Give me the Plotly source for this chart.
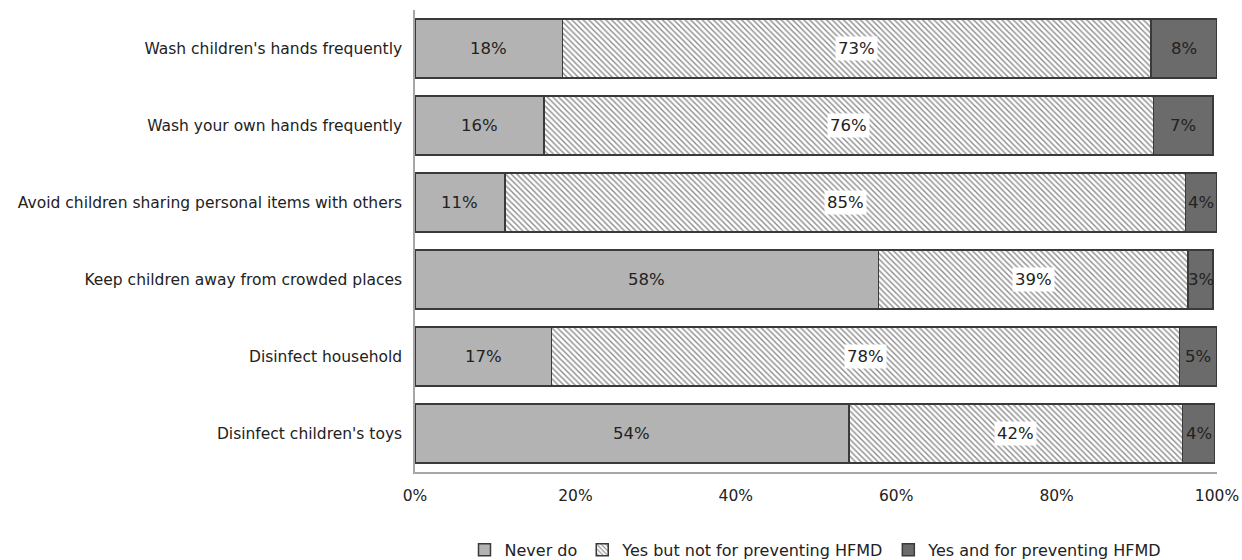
import plotly.graph_objects as go

# Survey items, listed top to bottom
categories = [
    "Wash children's hands frequently",
    "Wash your own hands frequently",
    "Avoid children sharing personal items with others",
    "Keep children away from crowded places",
    "Disinfect household",
    "Disinfect children's toys",
]

# Share of respondents (%) per response
never_do = [18.4, 16.1, 11.2, 57.8, 17.0, 54.1]
yes_not_hfmd = [73.4, 76.0, 84.9, 38.6, 78.3, 41.6]
yes_for_hfmd = [8.2, 7.4, 3.9, 3.1, 4.7, 4.0]

series_names = ["Never do", "Yes but not for preventing HFMD", "Yes and for preventing HFMD"]
x_ticks = [0, 20, 40, 60, 80, 100]

FONT = "DejaVu Sans, Verdana, sans-serif"
EDGE = "#3a3a3a"
TEXT = "#222222"

fig = go.Figure()

fig.add_trace(go.Bar(
    y=categories, x=never_do, orientation="h", name=series_names[0],
    marker=dict(color="#b3b3b3", line=dict(color=EDGE, width=1.5)),
    hoverinfo="x+y",
))
fig.add_trace(go.Bar(
    y=categories, x=yes_not_hfmd, orientation="h", name=series_names[1],
    marker=dict(
        color="white",
        line=dict(color=EDGE, width=1.5),
        pattern=dict(shape="\\", fgcolor="#8c8c8c", bgcolor="white",
                     size=4, solidity=0.35, fillmode="replace"),
    ),
    hoverinfo="x+y",
))
fig.add_trace(go.Bar(
    y=categories, x=yes_for_hfmd, orientation="h", name=series_names[2],
    marker=dict(color="#6b6b6b", line=dict(color=EDGE, width=1.5)),
    hoverinfo="x+y",
))

# Value labels centred on each segment
annotations = []
for i, cat in enumerate(categories):
    segs = [never_do[i], yes_not_hfmd[i], yes_for_hfmd[i]]
    start = 0.0
    for k, v in enumerate(segs):
        mid = start + v / 2
        ann = dict(
            x=mid, y=cat, xref="x", yref="y",
            text=f"{round(v)}%", showarrow=False,
            font=dict(family=FONT, size=16.5, color=TEXT),
        )
        if k == 1:
            ann.update(bgcolor="white", borderpad=2)
        annotations.append(ann)
        start += v

fig.update_layout(
    barmode="stack",
    bargap=0.235,
    width=1242, height=560,
    margin=dict(l=415, r=25, t=10, b=88, autoexpand=False),
    paper_bgcolor="white", plot_bgcolor="white",
    font=dict(family=FONT, size=15.5, color=TEXT),
    annotations=annotations,
    showlegend=True,
    legend=dict(
        orientation="h", xref="paper", yref="container",
        x=0.5, xanchor="center", y=0.018, yanchor="middle",
        traceorder="normal",
        font=dict(family=FONT, size=16, color=TEXT),
        itemwidth=30, tracegroupgap=0,
    ),
    xaxis=dict(
        range=[0, 100], tickvals=x_ticks,
        ticktext=[f"{t}%" for t in x_ticks],
        showgrid=False, zeroline=False,
        showline=True, linecolor="#a6a6a6", linewidth=1.5,
        ticks="outside", ticklen=9, tickcolor="rgba(0,0,0,0)",
        tickfont=dict(family=FONT, size=15.5, color=TEXT),
        automargin=False, fixedrange=True,
    ),
    yaxis=dict(
        categoryorder="array", categoryarray=categories,
        autorange="reversed",
        showgrid=False, zeroline=False,
        showline=True, linecolor="#a6a6a6", linewidth=1.5,
        ticks="outside", ticklen=8, tickcolor="rgba(0,0,0,0)",
        tickfont=dict(family=FONT, size=15.5, color=TEXT),
        automargin=False, fixedrange=True,
    ),
)

fig.write_html("out.html")
